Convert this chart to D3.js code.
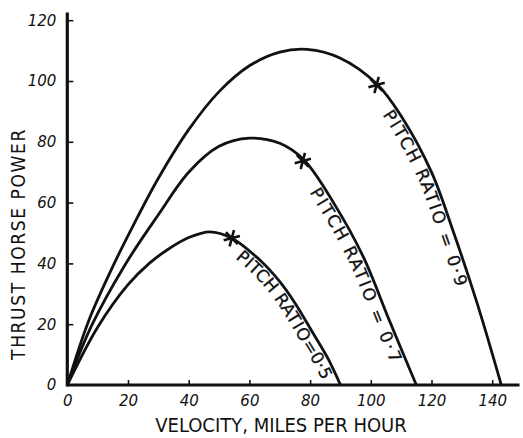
<!DOCTYPE html>
<html>
<head>
<meta charset="utf-8">
<script src="https://cdn.jsdelivr.net/npm/d3@7"></script>
<style>
  body { margin: 0; background: #fff; }
  svg { display: block; }
  .tick text { font-family: "DejaVu Sans", sans-serif; font-style: italic; font-size: 15px; fill: #111; }
  .title { font-family: "DejaVu Sans Condensed", "DejaVu Sans", sans-serif; fill: #111; }
  .pitch { font-family: "DejaVu Sans", sans-serif; fill: #111; stroke: #111; stroke-width: 0.3px; }
</style>
</head>
<body>
<svg id="chart" width="523" height="438"></svg>
<script>
// values (mph, thrust horse power)
const speed05 = [0, 10, 20, 27, 33, 40, 47, 54.2, 63, 70, 75, 81, 86, 90];
const power05 = [0, 19, 33, 40, 44.5, 48.5, 50.4, 48.3, 41.5, 34, 27, 17, 8.5, 0];

const speed07 = [0, 8, 19, 30, 40, 50, 60, 70, 78, 88, 97.5, 106, 115];
const power07 = [0, 19.5, 39.5, 56, 70, 78.5, 81.2, 79.5, 74, 59.5, 42.2, 21.5, 0];

const speed09 = [0, 7, 15, 22, 30, 40, 50, 60, 70, 79, 90, 102, 110, 120, 127, 135, 143];
const power09 = [0, 21, 39, 53, 68, 84, 96.5, 105, 109.5, 110.4, 107.5, 99, 88.5, 70, 51, 27, 0];

const ratioLabels = ["PITCH RATIO=0·5", "PITCH RATIO = 0·7", "PITCH RATIO = 0·9"];
const crossSpeed = [54.2, 77.6, 101.9];
const crossPower = [48.3, 73.7, 98.7];
const labelStart = [58.5, 84, 108];

const xTicks = [0, 20, 40, 60, 80, 100, 120, 140];
const yTicks = [0, 20, 40, 60, 80, 100, 120];

const labelSpacing = [0.8, 2.2, 2.2];

const svg = d3.select("#chart");

const x = d3.scaleLinear().domain([0, 140]).range([67.3, 492.2]);
const y = d3.scaleLinear().domain([0, 120]).range([385, 20.2]);

// axes
const xAxis = svg.append("g")
    .attr("transform", `translate(0,${y(0)})`)
    .call(d3.axisBottom(x).tickValues(xTicks).tickSize(-5).tickSizeOuter(0).tickPadding(10));
const yAxis = svg.append("g")
    .attr("transform", `translate(${x(0)},0)`)
    .call(d3.axisLeft(y).tickValues(yTicks).tickSize(-6).tickSizeOuter(0).tickPadding(11));

[xAxis, yAxis].forEach(g => {
    g.select(".domain").remove();
    g.selectAll(".tick line").attr("stroke", "#111").attr("stroke-width", 1.6);
});
xAxis.selectAll(".tick").filter(d => d === 0).select("line").remove();
yAxis.selectAll(".tick").filter(d => d === 0).select("line").remove();

svg.append("line")
    .attr("x1", x(0)).attr("x2", x(149))
    .attr("y1", y(0)).attr("y2", y(0))
    .attr("stroke", "#111").attr("stroke-width", 3.2);
svg.append("line")
    .attr("x1", x(0)).attr("x2", x(0))
    .attr("y1", y(0) + 1.5).attr("y2", y(122.5))
    .attr("stroke", "#111").attr("stroke-width", 3.2);

// axis titles
svg.append("text")
    .attr("class", "title")
    .attr("x", 281).attr("y", 432)
    .attr("text-anchor", "middle")
    .style("font-size", "20px")
    .text("VELOCITY, MILES PER HOUR");
svg.append("text")
    .attr("class", "title")
    .attr("transform", "translate(25,244) rotate(-90)")
    .attr("text-anchor", "middle")
    .style("font-size", "19px")
    .style("letter-spacing", "1.6px")
    .text("THRUST HORSE POWER");

// curves
const series = [
    d3.zip(speed05, power05),
    d3.zip(speed07, power07),
    d3.zip(speed09, power09)
];

const line = d3.line()
    .x(d => x(d[0]))
    .y(d => y(d[1]))
    .curve(d3.curveCatmullRom.alpha(0.5));

const paths = svg.selectAll("path.curve")
    .data(series)
    .join("path")
    .attr("class", "curve")
    .attr("id", (d, i) => "curve" + i)
    .attr("d", line)
    .attr("fill", "none")
    .attr("stroke", "#111")
    .attr("stroke-width", 2.8);

// asterisk marks
const star = d3.symbol().type(d3.symbolAsterisk).size(200);
svg.selectAll("path.cross")
    .data(crossSpeed)
    .join("path")
    .attr("class", "cross")
    .attr("d", star)
    .attr("transform", (d, i) => `translate(${x(d)},${y(crossPower[i])}) rotate(15)`)
    .attr("fill", "none")
    .attr("stroke", "#111")
    .attr("stroke-width", 2.6);

// labels running along each curve, just inside it
paths.each(function (d, i) {
    const node = this;
    const total = node.getTotalLength();
    const target = x(labelStart[i]);
    let lo = 0, hi = total;
    for (let k = 0; k < 40; k++) {
        const mid = (lo + hi) / 2;
        if (node.getPointAtLength(mid).x < target) lo = mid; else hi = mid;
    }
    svg.append("text")
        .attr("class", "pitch")
        .attr("dy", 15)
        .style("font-size", "17px")
        .style("letter-spacing", labelSpacing[i] + "px")
        .append("textPath")
        .attr("href", "#curve" + i)
        .attr("startOffset", lo)
        .text(ratioLabels[i]);
});
</script>
</body>
</html>
